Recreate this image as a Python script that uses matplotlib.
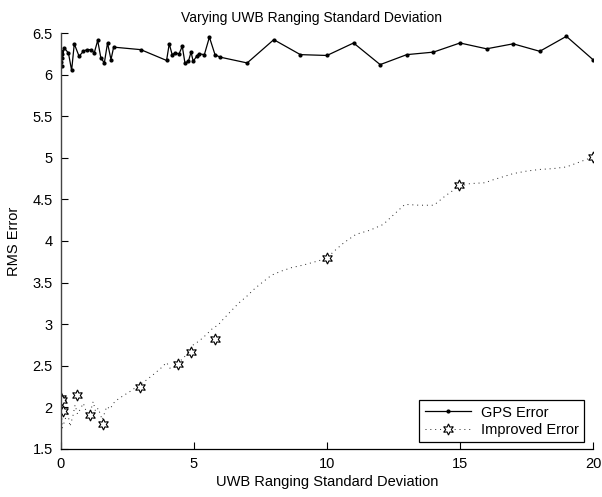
import matplotlib
matplotlib.use('Agg')
import matplotlib.pyplot as plt
from matplotlib.lines import Line2D
from matplotlib.ticker import FuncFormatter


# GPS error (solid line with dots)
gps_x = [0, 0.01, 0.02, 0.03, 0.05, 0.12, 0.28, 0.40, 0.50, 0.68, 0.84, 0.97,
         1.13, 1.25, 1.38, 1.50, 1.63, 1.75, 1.88, 1.98, 3.0, 3.97, 4.07, 4.18,
         4.29, 4.44, 4.56, 4.66, 4.79, 4.89, 4.97, 5.10, 5.19, 5.39, 5.58, 5.79,
         5.98, 7, 8, 9, 10, 11, 12, 13, 14, 15, 16, 17, 18, 19, 20]
gps_y = [6.15, 6.28, 6.10, 6.25, 6.20, 6.32, 6.26, 6.05, 6.37, 6.22, 6.28, 6.30,
         6.30, 6.26, 6.41, 6.20, 6.14, 6.38, 6.18, 6.33, 6.30, 6.17, 6.37, 6.24,
         6.26, 6.25, 6.34, 6.14, 6.16, 6.27, 6.16, 6.22, 6.25, 6.24, 6.45, 6.24,
         6.21, 6.14, 6.42, 6.24, 6.23, 6.38, 6.12, 6.24, 6.27, 6.38, 6.31, 6.37,
         6.28, 6.46, 6.18]

# Improved error (dotted curve)
imp_x = [0, 0.05, 0.15, 0.25, 0.34, 0.45, 0.53, 0.62, 0.71, 0.84, 0.95, 1.05,
         1.21, 1.3, 1.4, 1.55, 1.72, 1.85, 1.97, 2.15, 2.34, 2.59, 2.9, 3.22,
         3.53, 3.75, 3.97, 4.1, 4.29, 4.45, 4.6, 4.8, 4.97, 5.2, 5.45, 5.7, 5.91,
         6.1, 6.4, 6.67, 7.0, 7.29, 7.6, 7.92, 8.3, 8.67, 9.1, 9.55, 9.99, 10.24,
         10.64, 11.09, 11.62, 12.12, 12.52, 12.93, 13.47, 14.02, 14.44, 14.66,
         14.98, 15.38, 15.94, 16.19, 16.6, 17.0, 17.5, 18.0, 18.5, 19.0, 19.5, 20]
imp_y = [2.1, 1.75, 1.85, 1.95, 1.77, 1.9, 2.03, 1.92, 1.97, 2.05, 1.95, 1.88,
         2.07, 1.95, 1.99, 1.85, 2.01, 1.98, 2.05, 2.1, 2.14, 2.19, 2.26, 2.33,
         2.41, 2.47, 2.54, 2.47, 2.49, 2.55, 2.59, 2.67, 2.75, 2.8, 2.87, 2.95,
         2.99, 3.06, 3.16, 3.25, 3.34, 3.43, 3.51, 3.59, 3.64, 3.68, 3.71, 3.75,
         3.79, 3.87, 3.98, 4.08, 4.13, 4.20, 4.32, 4.44, 4.43, 4.43, 4.54, 4.59,
         4.66, 4.69, 4.70, 4.73, 4.77, 4.81, 4.84, 4.86, 4.87, 4.89, 4.95, 5.01]

# Improved error markers (hexagrams)
mark_x = [0, 0.03, 0.09, 0.59, 1.09, 1.59, 2.97, 4.39, 4.88, 5.79, 9.99, 14.98, 20]
mark_y = [2.11, 2.09, 1.96, 2.15, 1.91, 1.80, 2.25, 2.52, 2.67, 2.82, 3.79, 4.67, 5.01]

x_ticks = [0, 5, 10, 15, 20]
y_ticks = [1.5, 2, 2.5, 3, 3.5, 4, 4.5, 5, 5.5, 6, 6.5]

plt.rcParams['font.family'] = ['Liberation Sans', 'DejaVu Sans']
plt.rcParams['font.size'] = 10.5

hexagram = (6, 1, 0)
dots = (0, (1, 4))

fig = plt.figure(figsize=(6.02, 4.97), dpi=100)
ax = fig.add_axes([0.1013, 0.0966, 0.8837, 0.837])

ax.plot(gps_x, gps_y, color='black', lw=0.9, marker='.', markersize=4)
ax.plot(imp_x, imp_y, color='#222222', lw=0.7, linestyle=dots)
ax.plot(mark_x, mark_y, linestyle='none', marker=hexagram, markersize=8,
        markerfacecolor='white', markeredgecolor='black', markeredgewidth=0.8)

ax.set_xlim(0, 20)
ax.set_ylim(1.5, 6.5)
ax.set_xticks(x_ticks)
ax.set_yticks(y_ticks)
ax.yaxis.set_major_formatter(FuncFormatter(lambda v, p: '%g' % v))
ax.tick_params(direction='in', length=5, width=0.8, labelsize=10.5)
ax.tick_params(axis='y', pad=6)
ax.tick_params(axis='x', pad=6)
ax.spines['top'].set_visible(False)
ax.spines['right'].set_visible(False)
ax.spines['left'].set_linewidth(1.0)
ax.spines['left'].set_color('#444444')
ax.spines['bottom'].set_linewidth(0.9)

ax.set_title('Varying UWB Ranging Standard Deviation', fontsize=10, pad=8, x=0.47)
ax.set_xlabel('UWB Ranging Standard Deviation', labelpad=3)
ax.set_ylabel('RMS Error', labelpad=8)

handles = [
    Line2D([], [], color='black', lw=0.9, marker='.', markersize=4),
    Line2D([], [], color='#222222', lw=0.7, linestyle=dots, marker=hexagram,
           markersize=8, markerfacecolor='white', markeredgecolor='black',
           markeredgewidth=0.8),
]
leg = ax.legend(handles, ['GPS Error', 'Improved Error'], loc='lower right',
                bbox_to_anchor=(0.984, 0.016), borderaxespad=0,
                fancybox=False, edgecolor='black', framealpha=1,
                handlelength=3.2, handletextpad=0.7, fontsize=10.5,
                borderpad=0.35, labelspacing=0.25)
leg.get_frame().set_linewidth(0.9)

fig.savefig('out.png', dpi=100)
